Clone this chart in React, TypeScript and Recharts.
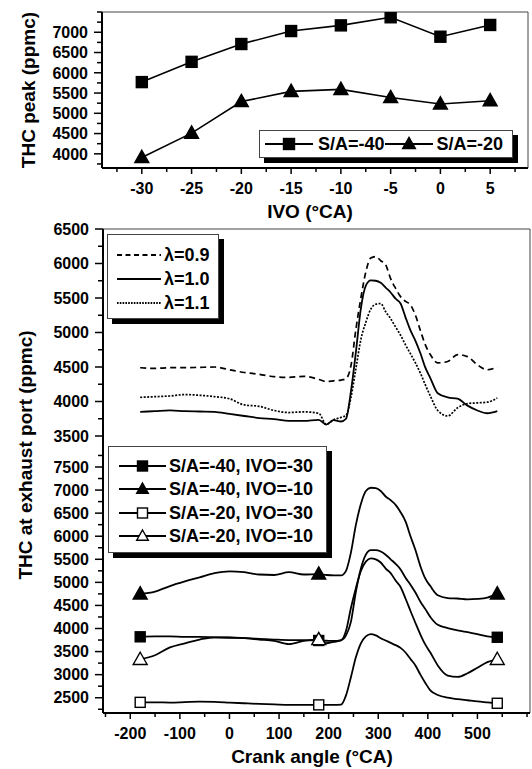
import React from 'react';
import { LineChart, Line, XAxis, YAxis, ReferenceLine, Legend } from 'recharts';

// THC peak vs IVO (top panel)
const ivoAngles = [-30, -25, -20, -15, -10, -5, 0, 5];
const peakSa40 = [5770, 6270, 6710, 7030, 7170, 7370, 6890, 7180];
const peakSa20 = [3910, 4510, 5290, 5540, 5590, 5390, 5230, 5310];

// THC at exhaust port vs crank angle (middle + bottom panels)
const crankAngles = [
  -180, -150, -120, -90, -60, -30, 0, 30, 60, 90, 120, 150, 180, 195, 210, 225, 235, 245, 255, 265, 275,
  285, 295, 305, 315, 325, 335, 345, 355, 365, 375, 385, 395, 405, 420, 440, 460, 480, 500, 520, 540,
];
const lambda09 = [
  4490, 4480, 4490, 4490, 4495, 4500, 4460, 4420, 4395, 4360, 4350, 4365, 4320, 4290, 4300, 4310, 4330, 4520, 5050, 5500, 5880,
  6080, 6100, 6040, 5980, 5780, 5640, 5520, 5450, 5400, 5250, 5030, 4820, 4680, 4560, 4580, 4680, 4650, 4530, 4460, 4500,
];
const lambda10 = [
  3850, 3860, 3870, 3860, 3855, 3850, 3820, 3790, 3760, 3745, 3720, 3720, 3735, 3665, 3730, 3710, 3750, 4150, 4720, 5350, 5680,
  5755, 5750, 5720, 5650, 5580, 5490, 5420, 5220, 5030, 4880, 4700, 4490, 4340, 4120, 4060, 4040, 3940, 3870, 3830, 3860,
];
const lambda11 = [
  4060, 4070, 4080, 4100, 4090, 4070, 4040, 3950, 3930, 3870, 3840, 3850, 3830, 3670, 3735, 3770, 3800, 4060, 4480, 4900, 5150,
  5340, 5410, 5420, 5300, 5200, 5080, 4960, 4820, 4690, 4560, 4410, 4240, 4080, 3870, 3790, 3910, 3970, 3980, 3990, 4050,
];
const sa40Ivo30 = [
  3820, 3830, 3830, 3820, 3820, 3810, 3800, 3790, 3775, 3760, 3750, 3750, 3740, 3735, 3730, 3750, 3850, 4150, 4800, 5300, 5600,
  5700, 5700, 5670, 5600, 5500, 5400, 5280, 5100, 4950, 4780, 4580, 4420, 4250, 4080, 4010, 3960, 3920, 3880, 3830, 3810,
];
const sa40Ivo10 = [
  4750, 4800, 4920, 5020, 5110, 5200, 5240, 5220, 5170, 5160, 5220, 5170, 5180, 5160, 5150, 5150, 5250, 5650, 6250, 6700, 6980,
  7050, 7040, 6980, 6860, 6780, 6680, 6520, 6320, 6000, 5700, 5350, 5080, 4920, 4720, 4660, 4650, 4630, 4640, 4670, 4750,
];
const sa20Ivo30 = [
  2400, 2400, 2395, 2405, 2415, 2410, 2395, 2380, 2365, 2355, 2345, 2345, 2345, 2345, 2345, 2350, 2550, 2950, 3380, 3680, 3830,
  3880, 3850, 3790, 3740, 3690, 3640, 3580, 3480, 3340, 3200, 3000, 2820, 2660, 2560, 2500, 2470, 2445, 2420, 2400, 2380,
];
const sa20Ivo10 = [
  3330, 3420, 3590, 3680, 3760, 3810, 3810, 3790, 3760, 3730, 3660, 3730, 3760, 3680, 3710, 3740, 3950, 4450, 4880, 5250, 5450,
  5520, 5500, 5430, 5300, 5200, 5040, 4900, 4650, 4380, 4120, 3870, 3650, 3480, 3200, 2980, 2950, 3030, 3150, 3270, 3330,
];
const markerAngles = [-180, 180, 540];

// tick labels
const ivoTicks = [-30, -25, -20, -15, -10, -5, 0, 5];
const peakTicks = [4000, 4500, 5000, 5500, 6000, 6500, 7000];
const lambdaTicks = [3500, 4000, 4500, 5000, 5500, 6000, 6500];
const saTicks = [2500, 3000, 3500, 4000, 4500, 5000, 5500, 6000, 6500, 7000, 7500];
const crankTicks = [-200, -100, 0, 100, 200, 300, 400, 500];

const FONT = '"Liberation Sans", Arial, Helvetica, sans-serif';
const W = 532;
const H = 769;

const IVO_DOMAIN: [number, number] = [-34, 8.8];
const PEAK_DOMAIN: [number, number] = [3650, 7500];
const CRANK_DOMAIN: [number, number] = [-255, 606];
const LAMBDA_DOMAIN: [number, number] = [3355, 6500];
const SA_DOMAIN: [number, number] = [2169, 7955];

// majors plus the half-way minor ticks that sit inside the domain
function withMinors(majors: number[], domain: [number, number]) {
  const step = majors[1] - majors[0];
  const out: number[] = [];
  for (let v = majors[0] - step; v <= majors[majors.length - 1] + step; v += step / 2) {
    if (v >= domain[0] && v <= domain[1]) out.push(v);
  }
  return out;
}

const topData = ivoAngles.map((ivo, i) => ({ ivo, sa40: peakSa40[i], sa20: peakSa20[i] }));
const lowerData = crankAngles.map((ca, i) => ({
  ca,
  l09: lambda09[i],
  l10: lambda10[i],
  l11: lambda11[i],
  s40i30: sa40Ivo30[i],
  s40i10: sa40Ivo10[i],
  s20i30: sa20Ivo30[i],
  s20i10: sa20Ivo10[i],
}));

function YTick({ x, y, payload, majors }: any) {
  const v = payload.value;
  const major = majors.includes(v);
  const ax = x + 14;
  return (
    <g>
      <line x1={ax - (major ? 8 : 5)} y1={y} x2={ax} y2={y} stroke="#000" strokeWidth={1.5} />
      {major && (
        <text x={x} y={y} dy="0.36em" textAnchor="end" fontFamily={FONT} fontWeight={700} fontSize={16} fill="#000">
          {v}
        </text>
      )}
    </g>
  );
}

function XTick({ x, y, payload, majors }: any) {
  const v = payload.value;
  const major = majors.includes(v);
  const ay = y - 14;
  return (
    <g>
      <line x1={x} y1={ay} x2={x} y2={ay + (major ? 6 : 4)} stroke="#000" strokeWidth={1.5} />
      {major && (
        <text x={x} y={y} dy="0.72em" textAnchor="middle" fontFamily={FONT} fontWeight={700} fontSize={16} fill="#000">
          {v}
        </text>
      )}
    </g>
  );
}

function VLabel({ text, cx, cy }: any) {
  return (
    <text x={cx} y={cy} transform={`rotate(-90 ${cx} ${cy})`} textAnchor="middle" dominantBaseline="central"
      fontFamily={FONT} fontWeight={700} fontSize={19} fill="#000">
      {text}
    </text>
  );
}

function HLabel({ text, cx, cy }: any) {
  return (
    <text x={cx} y={cy} textAnchor="middle" dominantBaseline="central" fontFamily={FONT} fontWeight={700} fontSize={19} fill="#000">
      {text}
    </text>
  );
}

function Marker({ shape, filled, cx, cy, size }: any) {
  const fill = filled ? '#000' : '#fff';
  if (shape === 'square') {
    const h = size / 2;
    return <rect x={cx - h} y={cy - h} width={size} height={size} fill={fill} stroke="#000" strokeWidth={1.4} />;
  }
  const pts = `${cx},${cy - size * 0.6} ${cx + size * 0.58},${cy + size * 0.42} ${cx - size * 0.58},${cy + size * 0.42}`;
  return <polygon points={pts} fill={fill} stroke="#000" strokeWidth={1.4} strokeLinejoin="miter" />;
}

const makeDot = (shape: string, filled: boolean, size: number, only?: number[]) => (props: any) => {
  const { cx, cy, payload, index } = props;
  if (only && !only.includes(payload.ca)) return <g key={`d-${index}`} />;
  return <Marker key={`d-${index}`} shape={shape} filled={filled} cx={cx} cy={cy} size={size} />;
};

function LegendIcon({ w, shape, filled, dash, size = 11 }: any) {
  return (
    <svg width={w} height={20} style={{ display: 'block', flex: 'none' }}>
      <line x1={0} y1={10} x2={w} y2={10} stroke="#000" strokeWidth={1.8} strokeDasharray={dash} />
      {shape && <Marker shape={shape} filled={filled} cx={w / 2} cy={10} size={size} />}
    </svg>
  );
}

const boxStyle: React.CSSProperties = {
  background: '#fff',
  border: '1px solid #444',
  boxShadow: '5px 5px 0 #000',
  boxSizing: 'border-box',
  width: '100%',
  height: '100%',
  fontFamily: FONT,
  fontWeight: 700,
  color: '#000',
  lineHeight: 1,
};

const TopLegend = () => (
  <div style={{ ...boxStyle, display: 'flex', alignItems: 'center', padding: '0 0 0 5px', fontSize: 18 }}>
    <LegendIcon w={48} shape="square" filled />
    <span style={{ marginLeft: 5 }}>S/A=-40</span>
    <LegendIcon w={48} shape="triangle" filled />
    <span style={{ marginLeft: 4 }}>S/A=-20</span>
  </div>
);

const lambdaItems = [
  { label: 'λ=0.9', dash: '5 3.5' },
  { label: 'λ=1.0', dash: undefined },
  { label: 'λ=1.1', dash: '1.6 1.2' },
];

const LambdaLegend = () => (
  <div style={{ ...boxStyle, padding: '8px 0 0 9px', fontSize: 18 }}>
    {lambdaItems.map((it) => (
      <div key={it.label} style={{ display: 'flex', alignItems: 'center', height: 24 }}>
        <LegendIcon w={44} dash={it.dash} />
        <span style={{ marginLeft: 3 }}>{it.label}</span>
      </div>
    ))}
  </div>
);

const saItems = [
  { label: 'S/A=-40, IVO=-30', shape: 'square', filled: true },
  { label: 'S/A=-40, IVO=-10', shape: 'triangle', filled: true },
  { label: 'S/A=-20, IVO=-30', shape: 'square', filled: false },
  { label: 'S/A=-20, IVO=-10', shape: 'triangle', filled: false },
];

const SaLegend = () => (
  <div style={{ ...boxStyle, padding: '7px 0 0 10px', fontSize: 18 }}>
    {saItems.map((it) => (
      <div key={it.label} style={{ display: 'flex', alignItems: 'center', height: 23.5 }}>
        <LegendIcon w={47} shape={it.shape} filled={it.filled} size={10} />
        <span style={{ marginLeft: 3 }}>{it.label}</span>
      </div>
    ))}
  </div>
);

const layer: React.CSSProperties = { position: 'absolute', left: 0, top: 0 };

export default function App() {
  return (
    <div style={{ position: 'absolute', left: 0, top: 0, width: W, height: H, background: '#fff', overflow: 'hidden' }}>
      {/* top panel */}
      <div style={layer}>
        <LineChart width={W} height={H} data={topData} margin={{ top: 12, right: 4, bottom: 551, left: 0 }}>
          <XAxis dataKey="ivo" type="number" domain={IVO_DOMAIN} allowDataOverflow ticks={withMinors(ivoTicks, IVO_DOMAIN)}
            interval={0} height={50} tickSize={6} tickMargin={8} tickLine={false}
            axisLine={{ stroke: '#000', strokeWidth: 2 }} tick={<XTick majors={ivoTicks} />}
            label={<HLabel text="IVO (°CA)" cx={310} cy={211} />} />
          <YAxis type="number" domain={PEAK_DOMAIN} allowDataOverflow ticks={withMinors(peakTicks, PEAK_DOMAIN)}
            interval={0} width={102} tickSize={8} tickMargin={6} tickLine={false}
            axisLine={{ stroke: '#000', strokeWidth: 2 }} tick={<YTick majors={peakTicks} />}
            label={<VLabel text="THC peak (ppmc)" cx={28} cy={90} />} />
          <ReferenceLine y={PEAK_DOMAIN[1]} stroke="#444" strokeWidth={1} />
          <ReferenceLine x={IVO_DOMAIN[1]} stroke="#444" strokeWidth={1} />
          <Line dataKey="sa40" stroke="#000" strokeWidth={1.6} dot={makeDot('square', true, 11)} isAnimationActive={false} />
          <Line dataKey="sa20" stroke="#000" strokeWidth={1.6} dot={makeDot('triangle', true, 12)} isAnimationActive={false} />
          <Legend verticalAlign="middle" align="center" content={<TopLegend />}
            wrapperStyle={{ left: 259, top: 130, width: 254, height: 28 }} />
        </LineChart>
      </div>

      {/* middle panel: lambda */}
      <div style={layer}>
        <LineChart width={W} height={H} data={lowerData} margin={{ top: 229, right: 2, bottom: 323, left: 0 }}>
          <XAxis dataKey="ca" type="number" domain={CRANK_DOMAIN} allowDataOverflow hide />
          <YAxis type="number" domain={LAMBDA_DOMAIN} allowDataOverflow ticks={withMinors(lambdaTicks, LAMBDA_DOMAIN)}
            interval={0} width={103} tickSize={8} tickMargin={6} tickLine={false}
            axisLine={{ stroke: '#000', strokeWidth: 2 }} tick={<YTick majors={lambdaTicks} />} />
          <ReferenceLine y={LAMBDA_DOMAIN[1]} stroke="#444" strokeWidth={1} />
          <ReferenceLine x={CRANK_DOMAIN[1]} stroke="#444" strokeWidth={1} />
          <Line type="monotone" dataKey="l09" stroke="#000" strokeWidth={1.7} strokeDasharray="6 4" dot={false} isAnimationActive={false} />
          <Line type="monotone" dataKey="l10" stroke="#000" strokeWidth={1.8} dot={false} isAnimationActive={false} />
          <Line type="monotone" dataKey="l11" stroke="#000" strokeWidth={1.7} strokeDasharray="2 1.5" dot={false} isAnimationActive={false} />
          <Legend verticalAlign="middle" align="center" content={<LambdaLegend />}
            wrapperStyle={{ left: 107, top: 234, width: 112, height: 85 }} />
        </LineChart>
      </div>

      {/* bottom panel: S/A and IVO */}
      <div style={layer}>
        <LineChart width={W} height={H} data={lowerData} margin={{ top: 446, right: 2, bottom: 0, left: 0 }}>
          <XAxis dataKey="ca" type="number" domain={CRANK_DOMAIN} allowDataOverflow ticks={withMinors(crankTicks, CRANK_DOMAIN)}
            interval={0} height={56} tickSize={6} tickMargin={8} tickLine={false}
            axisLine={{ stroke: '#000', strokeWidth: 2 }} tick={<XTick majors={crankTicks} />}
            label={<HLabel text="Crank angle (°CA)" cx={312} cy={756} />} />
          <YAxis type="number" domain={SA_DOMAIN} allowDataOverflow ticks={withMinors(saTicks, SA_DOMAIN)}
            interval={0} width={103} tickSize={8} tickMargin={6} tickLine={false}
            axisLine={{ stroke: '#000', strokeWidth: 2 }} tick={<YTick majors={saTicks} />}
            label={<VLabel text="THC at exhaust port (ppmc)" cx={25} cy={455} />} />
          <ReferenceLine x={CRANK_DOMAIN[1]} stroke="#444" strokeWidth={1} />
          <Line type="monotone" dataKey="s40i30" stroke="#000" strokeWidth={1.8} dot={makeDot('square', true, 10, markerAngles)} isAnimationActive={false} />
          <Line type="monotone" dataKey="s40i10" stroke="#000" strokeWidth={1.8} dot={makeDot('triangle', true, 12, markerAngles)} isAnimationActive={false} />
          <Line type="monotone" dataKey="s20i30" stroke="#000" strokeWidth={1.8} dot={makeDot('square', false, 10, markerAngles)} isAnimationActive={false} />
          <Line type="monotone" dataKey="s20i10" stroke="#000" strokeWidth={1.8} dot={makeDot('triangle', false, 12, markerAngles)} isAnimationActive={false} />
          <Legend verticalAlign="middle" align="center" content={<SaLegend />}
            wrapperStyle={{ left: 108, top: 446, width: 219, height: 107 }} />
        </LineChart>
      </div>
    </div>
  );
}
